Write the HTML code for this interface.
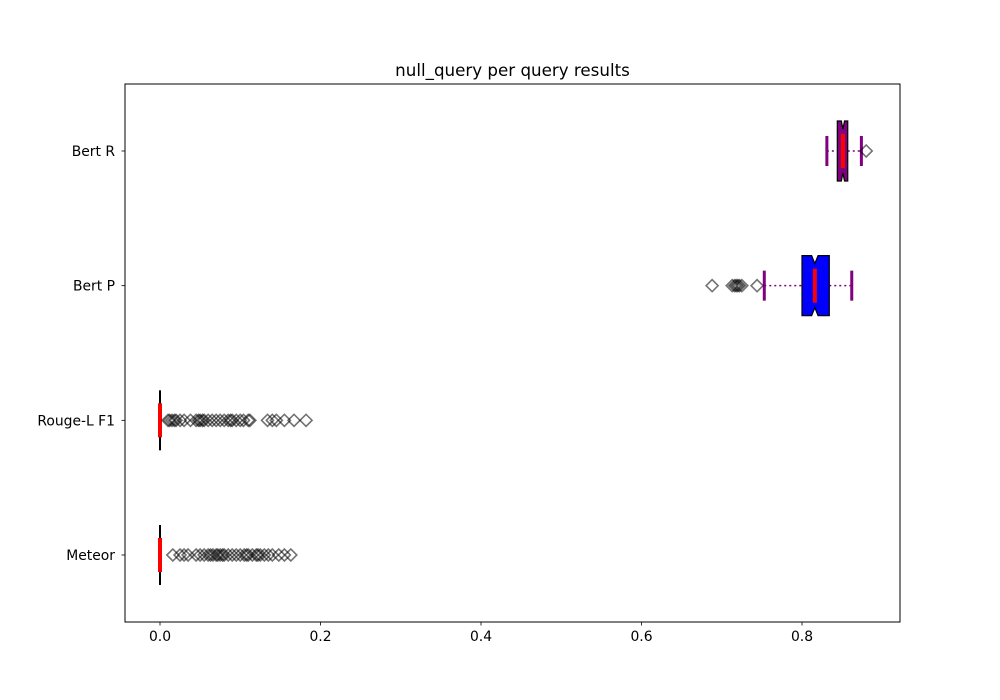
<!DOCTYPE html>
<html><head><meta charset="utf-8"><style>
body{margin:0;background:#fff}
svg{display:block;font-family:"DejaVu Sans","Liberation Sans",sans-serif}
</style></head><body>
<svg id="chart" width="1000" height="700" viewBox="0 0 1000 700" xmlns="http://www.w3.org/2000/svg">
<rect width="1000" height="700" fill="#fff"/>
<text x="512.5" y="76" font-size="16.7" text-anchor="middle">null_query per query results</text>
<g id="plot"></g>
<rect x="125" y="84" width="775" height="538" fill="none" stroke="#000" stroke-width="1"/>
</svg>
<script>
const categories = ["Meteor","Rouge-L F1","Bert P","Bert R"];
const xTicks = [0,0.2,0.4,0.6,0.8];
const xTickLabels = ["0.0","0.2","0.4","0.6","0.8"];
const q1 = [0,0,0.800,0.844];
const medians = [0,0,0.816,0.851];
const q3 = [0,0,0.834,0.857];
const notchLo = [0,0,0.812,0.849];
const notchHi = [0,0,0.820,0.853];
const whiskLo = [0,0,0.753,0.831];
const whiskHi = [0,0,0.862,0.874];
const outliersMeteor = [0.016,0.025,0.03,0.035,0.045,0.05,0.055,0.06,0.063,0.066,0.07,0.072,0.075,0.078,0.08,0.085,0.09,0.095,0.1,0.105,0.108,0.11,0.115,0.12,0.122,0.125,0.13,0.135,0.14,0.148,0.155,0.163];
const outliersRouge = [0.01,0.012,0.015,0.018,0.02,0.025,0.03,0.038,0.045,0.048,0.05,0.053,0.055,0.06,0.065,0.07,0.075,0.08,0.085,0.088,0.09,0.095,0.1,0.104,0.11,0.112,0.134,0.14,0.145,0.155,0.167,0.182];
const outliersBertP = [0.688,0.713,0.716,0.718,0.72,0.722,0.725,0.744];
const outliersBertR = [0.880];
const outliers = [outliersMeteor, outliersRouge, outliersBertP, outliersBertR];
const boxColors = ["none","none","#0000ff","#800080"];

const NS="http://www.w3.org/2000/svg";
const g=document.getElementById('plot');
const X=v=>160+(v-0)*802.5;
const Y=i=>555-i*134.67;
function mk(t,a){const e=document.createElementNS(NS,t);for(const k in a)e.setAttribute(k,a[k]);g.appendChild(e);return e;}

xTicks.forEach((t,i)=>{
  const l=mk('line',{x1:X(t),x2:X(t),y1:622,y2:625.5,stroke:'#000','stroke-width':0.8});
  
  
  const tx=mk('text',{x:X(t),y:641,'font-size':13.9,'text-anchor':'middle'});
  tx.textContent=xTickLabels[i];
  
  
});
categories.forEach((c,i)=>{
  const y=Y(i);
  const l=mk('line',{x1:121.5,x2:125,y1:y,y2:y,stroke:'#000','stroke-width':0.8});
  
  
  const tx=mk('text',{x:115,y:y+5,'font-size':13.9,'text-anchor':'end'});
  tx.textContent=c;
  
  

  const h=30, hn=22;
  const isZero = q3[i]-q1[i] < 1e-9;
  if(!isZero){
    const w1=mk('line',{x1:X(whiskLo[i]),x2:X(q1[i]),y1:y,y2:y,stroke:'#800080','stroke-width':1.5,'stroke-dasharray':'2,3'});
    
    
    const w2=mk('line',{x1:X(q3[i]),x2:X(whiskHi[i]),y1:y,y2:y,stroke:'#800080','stroke-width':1.5,'stroke-dasharray':'2,3'});
    
    
    [whiskLo[i],whiskHi[i]].forEach(v=>{
      const cap=mk('line',{x1:X(v),x2:X(v),y1:y-15,y2:y+15,stroke:'#800080','stroke-width':3});
      
      
    });
    const a=X(q1[i]),b=X(q3[i]),nl=X(notchLo[i]),nh=X(notchHi[i]),m=X(medians[i]);
    const p=mk('path',{d:`M${a},${y-h}L${nl},${y-h}L${m},${y-hn}L${nh},${y-h}L${b},${y-h}L${b},${y+h}L${nh},${y+h}L${m},${y+hn}L${nl},${y+h}L${a},${y+h}Z`,fill:boxColors[i],stroke:'#000','stroke-width':1.2});
    
    
  } else {
    const l2=mk('line',{x1:X(whiskLo[i]),x2:X(whiskLo[i]),y1:y-30,y2:y+30,stroke:'#000','stroke-width':2});
    
    
  }
  const md=mk('line',{x1:X(medians[i]),x2:X(medians[i]),y1:y-17,y2:y+17,stroke:'#ff0000','stroke-width':4});
  
  
  outliers[i].forEach(v=>{
    const x=X(v);
    const d=mk('path',{d:`M${x-6},${y}L${x},${y-6}L${x+6},${y}L${x},${y+6}Z`,fill:'none',stroke:'#000','stroke-opacity':0.55,'stroke-width':1.6});
    
    
  });
});
</script>
</body></html>
